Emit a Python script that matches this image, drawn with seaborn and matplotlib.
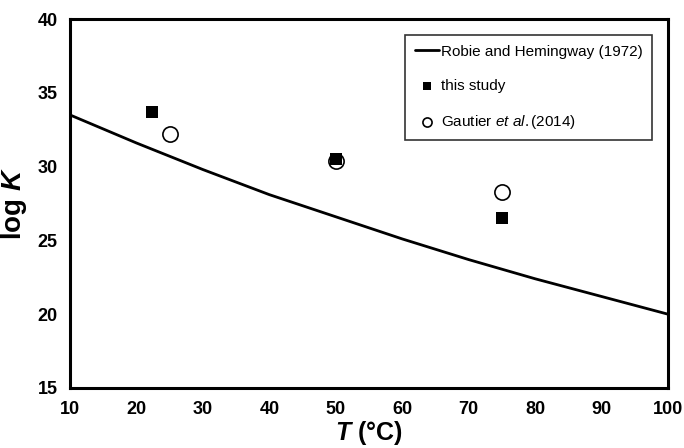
import matplotlib
matplotlib.use("Agg")
import matplotlib.pyplot as plt
import seaborn as sns
import pandas as pd

# Robie and Hemingway (1972) curve, read at 10 degree steps
curve_T = [10, 20, 30, 40, 50, 60, 70, 80, 90, 100]
curve_logK = [33.5, 31.6, 29.8, 28.1, 26.6, 25.1, 23.7, 22.4, 21.2, 20.0]

# this study
study_T = [22.4, 50, 75]
study_logK = [33.7, 30.5, 26.5]

# Gautier et al. (2014)
gautier_T = [25, 50, 75]
gautier_logK = [32.2, 30.4, 28.3]

x_ticks = [10, 20, 30, 40, 50, 60, 70, 80, 90, 100]
y_ticks = [15, 20, 25, 30, 35, 40]

sns.set_theme(style="white")
plt.rcParams['font.family'] = ['Liberation Sans', 'DejaVu Sans']
plt.rcParams['mathtext.fontset'] = 'custom'
plt.rcParams['mathtext.rm'] = 'Liberation Sans'
plt.rcParams['mathtext.it'] = 'Liberation Sans:italic'
plt.rcParams['mathtext.bf'] = 'Liberation Sans:bold'
plt.rcParams['mathtext.bfit'] = 'Liberation Sans:bold:italic'
plt.rcParams['text.color'] = 'black'
plt.rcParams['axes.labelcolor'] = 'black'
plt.rcParams['xtick.color'] = 'black'
plt.rcParams['ytick.color'] = 'black'

fig = plt.figure(figsize=(6.84, 4.48), dpi=100)
ax = fig.add_axes([70/684, 1-388/448, 598/684, 369/448])

curve_df = pd.DataFrame({"T": curve_T, "logK": curve_logK})
study_df = pd.DataFrame({"T": study_T, "logK": study_logK})
gautier_df = pd.DataFrame({"T": gautier_T, "logK": gautier_logK})

sns.lineplot(data=curve_df, x="T", y="logK", ax=ax, color="black", lw=2,
             label="Robie and Hemingway (1972)")
sns.scatterplot(data=study_df, x="T", y="logK", ax=ax, marker="s", color="black",
                s=75, edgecolor="black", linewidth=0, label="this study", zorder=3)
sns.scatterplot(data=gautier_df, x="T", y="logK", ax=ax, marker="o", facecolor="white",
                edgecolor="black", s=120, linewidth=1.2,
                label="Gautier $\\it{et\\ al.}$(2014)", zorder=2)

ax.set_xlim(10, 100)
ax.set_ylim(15, 40)
ax.set_xticks(x_ticks)
ax.set_yticks(y_ticks)
ax.tick_params(direction="in", length=5, width=2, labelsize=13, pad=9, colors="black")
for lab in ax.get_xticklabels() + ax.get_yticklabels():
    lab.set_fontweight("bold")
for sp in ax.spines.values():
    sp.set_linewidth(2.2)
    sp.set_color("black")

ax.set_xlabel("$\\bfit{T}$ (°C)", fontsize=18, fontweight="bold", labelpad=1)
ax.set_ylabel("log $\\bfit{K}$", fontsize=20, fontweight="bold", labelpad=6)

leg = ax.legend(loc="upper right", bbox_to_anchor=(0.974, 0.957), fontsize=11,
                frameon=True, fancybox=False, edgecolor="black", handlelength=1.6,
                handletextpad=0.1, labelspacing=1.3, borderpad=0.65, markerscale=0.6,
                borderaxespad=0)
leg.get_frame().set_linewidth(1.2)

fig.savefig("out.png", dpi=100)
